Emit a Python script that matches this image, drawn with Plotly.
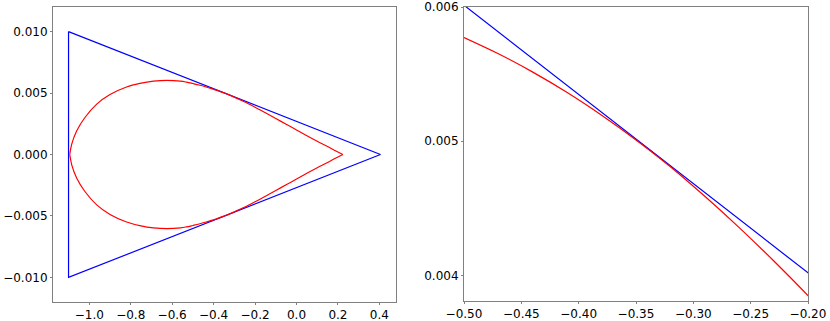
import plotly.graph_objects as go

# Blue triangle vertices
tri_x = [-1.1, -1.1, 0.405, -1.1]
tri_y = [0.010, -0.010, 0.0, 0.010]

# Red curve, upper half, lower half is its mirror image
red_x = [-1.094, -1.085, -1.061, -1.021, -0.964, -0.900, -0.820, -0.756, -0.690,
         -0.625, -0.560, -0.531, -0.500, -0.470, -0.440, -0.410, -0.380, -0.350,
         -0.320, -0.290, -0.260, -0.230, -0.200, -0.150, -0.100, -0.050, 0.000,
         0.050, 0.100, 0.150, 0.190, 0.2235]
red_y_upper = [0.0, 0.00082, 0.00191, 0.00301, 0.00410, 0.00488, 0.00549, 0.00578, 0.00597,
               0.00603, 0.00597, 0.00589, 0.005773, 0.005652, 0.005515, 0.005363, 0.005194, 0.00501,
               0.00481, 0.00459, 0.004357, 0.00411, 0.00385, 0.00339, 0.00293, 0.00246, 0.00200,
               0.00153, 0.00108, 0.00065, 0.00029, 0.0]
red_y_lower = [-v for v in red_y_upper]

left_xticks = [-1.0, -0.8, -0.6, -0.4, -0.2, 0.0, 0.2, 0.4]
left_yticks = [-0.010, -0.005, 0.000, 0.005, 0.010]
right_xticks = [-0.50, -0.45, -0.40, -0.35, -0.30, -0.25, -0.20]
right_yticks = [0.004, 0.005, 0.006]

W, H = 830, 321
fig = go.Figure()

for xa, ya in [("x", "y"), ("x2", "y2")]:
    fig.add_trace(go.Scatter(x=tri_x, y=tri_y, mode="lines", xaxis=xa, yaxis=ya,
                             line=dict(color="#0000ff", width=1.2), showlegend=False))
    for yy in (red_y_upper, red_y_lower):
        fig.add_trace(go.Scatter(x=red_x, y=yy, mode="lines", xaxis=xa, yaxis=ya,
                                 line=dict(color="#ff0000", width=1.2, shape="spline", smoothing=1.0),
                                 showlegend=False))

axis_common = dict(showline=True, mirror=True, linecolor="#808080", linewidth=1,
                   showgrid=False, zeroline=False, ticks="outside", ticklen=2,
                   tickcolor="#808080", automargin=False,
                   tickfont=dict(family="DejaVu Sans", size=12, color="black"))

fig.update_layout(
    width=W, height=H,
    margin=dict(l=0, r=0, t=0, b=0, pad=0, autoexpand=False),
    paper_bgcolor="white", plot_bgcolor="white",
    hovermode=False,
    xaxis=dict(domain=[53 / W, 396 / W], range=[-1.175, 0.48], tickvals=left_xticks,
               tickformat=".1f", anchor="y", **axis_common),
    yaxis=dict(domain=[1 - 302 / H, 1 - 7 / H], range=[-0.012, 0.012], tickvals=left_yticks,
               tickformat=".3f", anchor="x", **axis_common),
    xaxis2=dict(domain=[464 / W, 808 / W], range=[-0.5, -0.2], tickvals=right_xticks,
                tickformat=".2f", anchor="y2", **axis_common),
    yaxis2=dict(domain=[1 - 301 / H, 1 - 7 / H], range=[0.00381, 0.006], tickvals=right_yticks,
                tickformat=".3f", anchor="x2", **axis_common),
)

fig.write_html("out.html", config={"responsive": False, "displayModeBar": False})

# remove the browser's default page margin so the figure starts at the window corner
with open("out.html", "r", encoding="utf-8") as f:
    html = f.read()
html = html.replace("<head>", "<head><style>html,body{margin:0;padding:0;overflow:hidden;}</style>", 1)
with open("out.html", "w", encoding="utf-8") as f:
    f.write(html)
